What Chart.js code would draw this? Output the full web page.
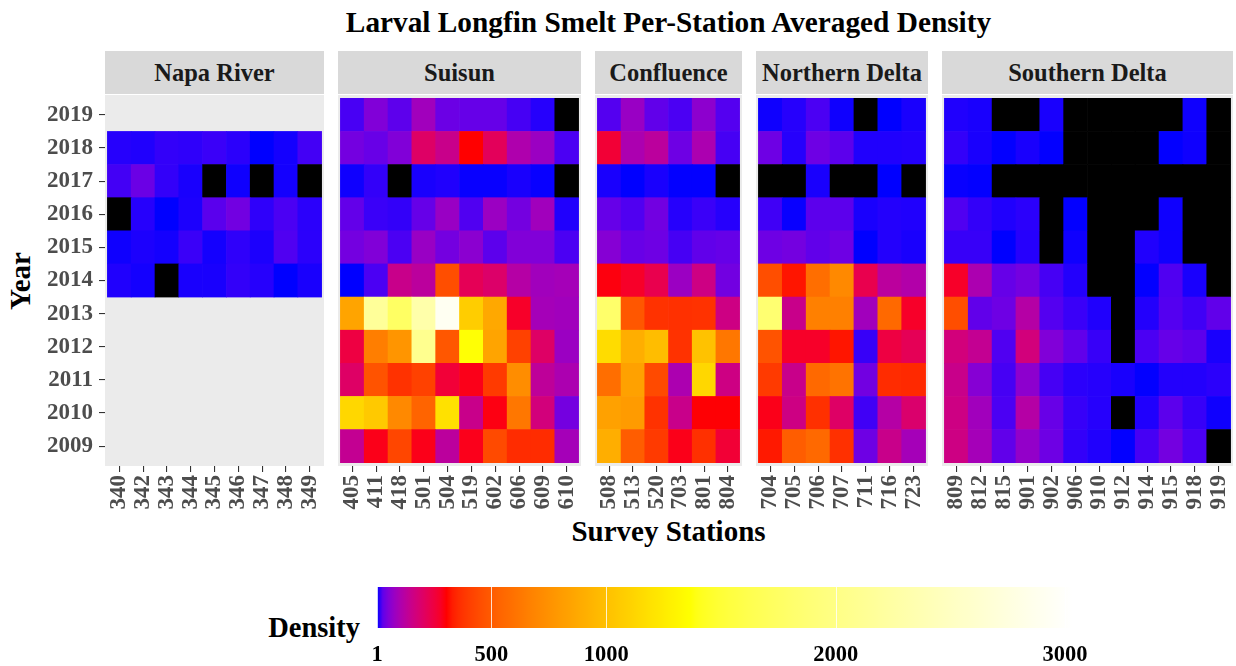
<!DOCTYPE html>
<html>
<head>
<meta charset="utf-8">
<script src="https://cdn.jsdelivr.net/npm/chart.js@4.4.1/dist/chart.umd.min.js"></script>
<style>
  body { margin: 0; background: #fff; }
  #wrap { position: relative; width: 1236px; height: 666px; overflow: hidden;
          font-family: 'Liberation Serif', 'Times New Roman', serif; font-weight: bold; }
  .txt { position: absolute; white-space: nowrap; }
  .strip { position: absolute; top: 51px; height: 43px; background: #d9d9d9; color: #1a1a1a;
           font-size: 24.5px; display: flex; align-items: center; justify-content: center; }
  canvas { position: absolute; }
</style>
</head>
<body>
<div id="wrap">
  <div class="txt" style="left:104px;width:1129px;top:5px;text-align:center;font-size:29.3px;line-height:34px;color:#000">Larval Longfin Smelt Per-Station Averaged Density</div>
  <div class="txt" style="left:104px;width:1129px;top:514px;text-align:center;font-size:29px;line-height:34px;color:#000">Survey Stations</div>
  <div class="txt" style="left:-30px;top:264px;width:100px;text-align:center;font-size:29px;line-height:34px;color:#000;transform:rotate(-90deg)">Year</div>
  <div class="txt" style="left:226px;width:134px;top:611px;text-align:right;font-size:28.5px;line-height:34px;color:#000">Density</div>
</div>
<script>
// survey years, top row first
const years = [2019, 2018, 2017, 2016, 2015, 2014, 2013, 2012, 2011, 2010, 2009];

// averaged density per station; 0 = no catch (drawn black), null = not surveyed
const napaStations = ['340', '342', '343', '344', '345', '346', '347', '348', '349'];
const napaDensity = [
  [null, null, null, null, null, null, null, null, null],
  [5, 4, 8, 7, 10, 6, 1, 2.5, 13],
  [13, 33, 8, 3, 0, 2, 0, 2.5, 0],
  [0, 5, 1, 3.5, 23, 38, 7, 16, 6],
  [2, 3.5, 2.5, 10, 2.5, 7, 3.5, 18, 6],
  [4, 2.5, 0, 3, 3, 8, 5, 1, 3],
  [null, null, null, null, null, null, null, null, null],
  [null, null, null, null, null, null, null, null, null],
  [null, null, null, null, null, null, null, null, null],
  [null, null, null, null, null, null, null, null, null],
  [null, null, null, null, null, null, null, null, null]
];

const suisunStations = ['405', '411', '418', '501', '504', '519', '602', '606', '609', '610'];
const suisunDensity = [
  [15, 50, 25, 85, 33, 30, 30, 14, 5, 0],
  [40, 31, 50, 200, 150, 304, 215, 105, 78, 16],
  [2, 8, 0, 3, 4, 1.5, 1.5, 3, 1.5, 0],
  [28, 10, 8, 30, 75, 18, 78, 40, 85, 4],
  [40, 50, 16, 75, 40, 60, 24, 50, 50, 16],
  [1, 16, 150, 125, 452, 220, 195, 115, 85, 90],
  [850, 2160, 1750, 2300, 2920, 1075, 870, 275, 90, 85],
  [245, 655, 770, 2080, 484, 1370, 850, 410, 200, 78],
  [200, 470, 370, 410, 258, 290, 390, 730, 130, 100],
  [1130, 1050, 707, 537, 1190, 150, 295, 622, 170, 40],
  [140, 290, 425, 290, 125, 288, 440, 357, 357, 90]
];

const confluenceStations = ['508', '513', '520', '703', '801', '804'];
const confluenceDensity = [
  [20, 75, 27, 16, 62, 20],
  [260, 100, 125, 35, 100, 14],
  [3, 1, 3, 1.2, 1.2, 0],
  [30, 18, 38, 5, 10, 5],
  [55, 31, 35, 14, 27, 30],
  [297, 275, 230, 78, 160, 38],
  [1800, 484, 370, 365, 370, 160],
  [1160, 900, 985, 370, 1010, 622],
  [580, 830, 440, 100, 1130, 160],
  [830, 800, 370, 150, 302, 302],
  [900, 510, 390, 290, 365, 260]
];

const northernStations = ['704', '705', '706', '707', '711', '716', '723'];
const northernDensity = [
  [2, 5, 16, 2, 0, 1, 3],
  [35, 5, 35, 24, 4, 4, 4.5],
  [0, 0, 3, 0, 0, 1, 0],
  [12, 1.5, 24, 24, 3, 4.5, 4],
  [35, 40, 27, 35, 1, 4.5, 3],
  [452, 320, 580, 707, 230, 125, 110],
  [1850, 150, 665, 665, 85, 560, 275],
  [470, 275, 275, 320, 9, 245, 220],
  [390, 150, 560, 600, 38, 357, 350],
  [290, 160, 365, 200, 12, 115, 190],
  [325, 510, 560, 365, 35, 150, 90]
];

const southernStations = ['809', '812', '815', '901', '902', '906', '910', '912', '914', '915', '918', '919'];
const southernDensity = [
  [4, 3, 0, 0, 3, 0, 0, 0, 0, 0, 2, 0],
  [8, 3, 1.2, 3, 1.2, 0, 0, 0, 0, 1.2, 2, 0],
  [1.5, 1.2, 0, 0, 0, 0, 0, 0, 0, 0, 0, 0],
  [18, 8, 4, 6, 0, 1.2, 0, 0, 0, 2, 0, 0],
  [9, 9, 1, 5, 0, 2, 0, 0, 4, 2, 0, 0],
  [275, 100, 30, 40, 14, 4.5, 0, 0, 1.2, 18, 3, 0],
  [452, 27, 35, 115, 20, 10, 4, 0, 4.5, 20, 12, 27],
  [170, 140, 18, 170, 50, 27, 9, 0, 16, 30, 24, 3],
  [150, 55, 14, 62, 14, 6, 5, 3, 1.2, 4.5, 4.5, 6],
  [160, 85, 16, 115, 31, 9, 5, 0, 4, 24, 9, 2],
  [160, 90, 27, 68, 35, 8, 4, 1.2, 14, 40, 16, 0]
];

const densityRange = [1, 3030];
const legendTicks = [1, 500, 1000, 2000, 3000];

const facets = [
  { name: 'Napa River', stations: napaStations, density: napaDensity },
  { name: 'Suisun', stations: suisunStations, density: suisunDensity },
  { name: 'Confluence', stations: confluenceStations, density: confluenceDensity },
  { name: 'Northern Delta', stations: northernStations, density: northernDensity },
  { name: 'Southern Delta', stations: southernStations, density: southernDensity }
];

// blue -> red -> yellow -> white, interpolated in Lab like ggplot's gradientn
const stopColours = [[0, 0, 255], [255, 0, 0], [255, 255, 0], [255, 255, 255]];
const stopPositions = [0, 0.1, 0.45, 1];

function toLinear(c) { c /= 255; return c <= 0.04045 ? c / 12.92 : Math.pow((c + 0.055) / 1.055, 2.4); }
function fromLinear(c) {
  c = c <= 0.0031308 ? 12.92 * c : 1.055 * Math.pow(c, 1 / 2.4) - 0.055;
  return Math.round(Math.min(1, Math.max(0, c)) * 255);
}
function rgbToLab(rgb) {
  const [r, g, b] = rgb.map(toLinear);
  const x = (0.4124 * r + 0.3576 * g + 0.1805 * b) / 0.95047;
  const y = 0.2126 * r + 0.7152 * g + 0.0722 * b;
  const z = (0.0193 * r + 0.1192 * g + 0.9505 * b) / 1.08883;
  const f = t => t > 0.008856 ? Math.cbrt(t) : 7.787 * t + 16 / 116;
  const fx = f(x), fy = f(y), fz = f(z);
  return [116 * fy - 16, 500 * (fx - fy), 200 * (fy - fz)];
}
function labToRgb(lab) {
  const fy = (lab[0] + 16) / 116, fx = fy + lab[1] / 500, fz = fy - lab[2] / 200;
  const inv = t => t * t * t > 0.008856 ? t * t * t : (t - 16 / 116) / 7.787;
  const x = 0.95047 * inv(fx), y = inv(fy), z = 1.08883 * inv(fz);
  const r = 3.2406 * x - 1.5372 * y - 0.4986 * z;
  const g = -0.9689 * x + 1.8758 * y + 0.0415 * z;
  const b = 0.0557 * x - 0.2040 * y + 1.0570 * z;
  return [fromLinear(r), fromLinear(g), fromLinear(b)];
}
const stopLabs = stopColours.map(rgbToLab);

function densityColour(v) {
  if (v === null || v === undefined || v < densityRange[0]) return '#000000';
  let t = (v - densityRange[0]) / (densityRange[1] - densityRange[0]);
  t = Math.min(1, Math.max(0, t));
  let k = 0;
  while (k < stopPositions.length - 2 && t > stopPositions[k + 1]) k++;
  const u = (t - stopPositions[k]) / (stopPositions[k + 1] - stopPositions[k]);
  const a = stopLabs[k], b = stopLabs[k + 1];
  const rgb = labToRgb([0, 1, 2].map(i => a[i] + (b[i] - a[i]) * u));
  return 'rgb(' + rgb.join(',') + ')';
}

const panelBackground = {
  id: 'panelBackground',
  beforeDraw(chart) {
    const a = chart.chartArea, c = chart.ctx;
    c.save();
    c.fillStyle = '#ebebeb';
    c.fillRect(a.left, a.top, a.width, a.height);
    c.restore();
  }
};

const tickFont = { family: "'Liberation Serif', serif", weight: 'bold', size: 23 };
const wrap = document.getElementById('wrap');

const panelTop = 95, panelHeight = 371, xAxisHeight = 50, yAxisWidth = 104;
const unit = 23.85, gap = 13.7;
let cursor = 104.5;

facets.forEach((facet, idx) => {
  const n = facet.stations.length;
  const left = Math.round(cursor);
  const width = Math.round(cursor + (n + 0.2) * unit) - left;
  cursor += (n + 0.2) * unit + gap;
  const first = idx === 0;

  const strip = document.createElement('div');
  strip.className = 'strip';
  strip.style.left = left + 'px';
  strip.style.width = width + 'px';
  strip.textContent = facet.name;
  wrap.appendChild(strip);

  const canvas = document.createElement('canvas');
  const canvasLeft = first ? left - yAxisWidth : left;
  canvas.width = width + (first ? yAxisWidth : 0);
  canvas.height = panelHeight + xAxisHeight;
  canvas.style.left = canvasLeft + 'px';
  canvas.style.top = panelTop + 'px';
  wrap.appendChild(canvas);

  const cells = [];
  facet.density.forEach((row, r) => row.forEach((v, c) => {
    if (v !== null) cells.push({ x: c, y: [years[r] - 0.5, years[r] + 0.5], v: v });
  }));

  new Chart(canvas, {
    type: 'bar',
    data: {
      datasets: [{
        data: cells,
        backgroundColor: ctx => densityColour(ctx.raw ? ctx.raw.v : null),
        borderWidth: 0,
        barPercentage: 1,
        categoryPercentage: 1
      }]
    },
    options: {
      responsive: false,
      animation: false,
      devicePixelRatio: 1,
      layout: { padding: 0 },
      plugins: { legend: { display: false }, tooltip: { enabled: false } },
      scales: {
        x: {
          type: 'linear',
          offset: false,
          min: -0.6,
          max: n - 0.4,
          afterBuildTicks: s => { s.ticks = facet.stations.map((_, k) => ({ value: k })); },
          afterFit: s => { s.height = xAxisHeight; s.paddingLeft = 0; s.paddingRight = 0; },
          ticks: {
            autoSkip: false, minRotation: 90, maxRotation: 90, padding: 3,
            color: '#4d4d4d', font: tickFont,
            callback: v => facet.stations[v]
          },
          grid: { drawOnChartArea: false, offset: false, tickLength: 6, color: '#333333', lineWidth: 1.1 },
          border: { display: false }
        },
        y: {
          type: 'linear',
          display: first,
          offset: false,
          min: 2008.4,
          max: 2019.6,
          afterBuildTicks: s => { s.ticks = years.map(y => ({ value: y })); },
          afterFit: s => {
            s.width = first ? yAxisWidth : 0;
            s.paddingTop = 0;
            s.paddingBottom = 0;
          },
          ticks: { padding: 6, color: '#4d4d4d', font: tickFont, callback: v => String(v) },
          grid: { drawOnChartArea: false, offset: false, tickLength: 6, color: '#333333', lineWidth: 1.1 },
          border: { display: false }
        }
      }
    },
    plugins: [panelBackground]
  });
});

// colour bar legend
const colourbarTicks = {
  id: 'colourbarTicks',
  afterDatasetsDraw(chart) {
    const xs = chart.scales.x, a = chart.chartArea, c = chart.ctx;
    c.save();
    c.strokeStyle = 'rgba(255,255,255,0.8)';
    c.lineWidth = 1;
    legendTicks.forEach(v => {
      const px = Math.round(xs.getPixelForValue(v)) + 0.5;
      c.beginPath();
      c.moveTo(px, a.top);
      c.lineTo(px, a.bottom);
      c.stroke();
    });
    c.restore();
  }
};

const legendCanvas = document.createElement('canvas');
legendCanvas.width = 775;
legendCanvas.height = 84;
legendCanvas.style.left = '337px';
legendCanvas.style.top = '582px';
wrap.appendChild(legendCanvas);

new Chart(legendCanvas, {
  type: 'bar',
  data: {
    labels: ['Density'],
    datasets: [{
      data: [densityRange],
      borderWidth: 0,
      barPercentage: 1,
      categoryPercentage: 1,
      backgroundColor: ctx => {
        const chart = ctx.chart;
        if (!chart.chartArea) return '#0000ff';
        const xs = chart.scales.x;
        const x0 = xs.getPixelForValue(densityRange[0]), x1 = xs.getPixelForValue(densityRange[1]);
        const grad = chart.ctx.createLinearGradient(x0, 0, x1, 0);
        for (let i = 0; i <= 120; i++) {
          const v = densityRange[0] + (densityRange[1] - densityRange[0]) * i / 120;
          grad.addColorStop(i / 120, densityColour(v));
        }
        return grad;
      }
    }]
  },
  options: {
    indexAxis: 'y',
    responsive: false,
    animation: false,
    devicePixelRatio: 1,
    layout: { padding: { left: 40, right: 40, top: 5, bottom: 0 } },
    plugins: { legend: { display: false }, tooltip: { enabled: false } },
    scales: {
      y: { display: false },
      x: {
        type: 'linear',
        min: densityRange[0],
        max: densityRange[1],
        afterBuildTicks: s => { s.ticks = legendTicks.map(v => ({ value: v })); },
        afterFit: s => { s.height = 38; s.paddingLeft = 0; s.paddingRight = 0; },
        grid: { display: false },
        border: { display: false },
        ticks: {
          autoSkip: false, maxRotation: 0, padding: 6, color: '#000000',
          font: { family: "'Liberation Serif', serif", weight: 'bold', size: 22.5 },
          callback: v => String(v)
        }
      }
    }
  },
  plugins: [colourbarTicks]
});
</script>
</body>
</html>
